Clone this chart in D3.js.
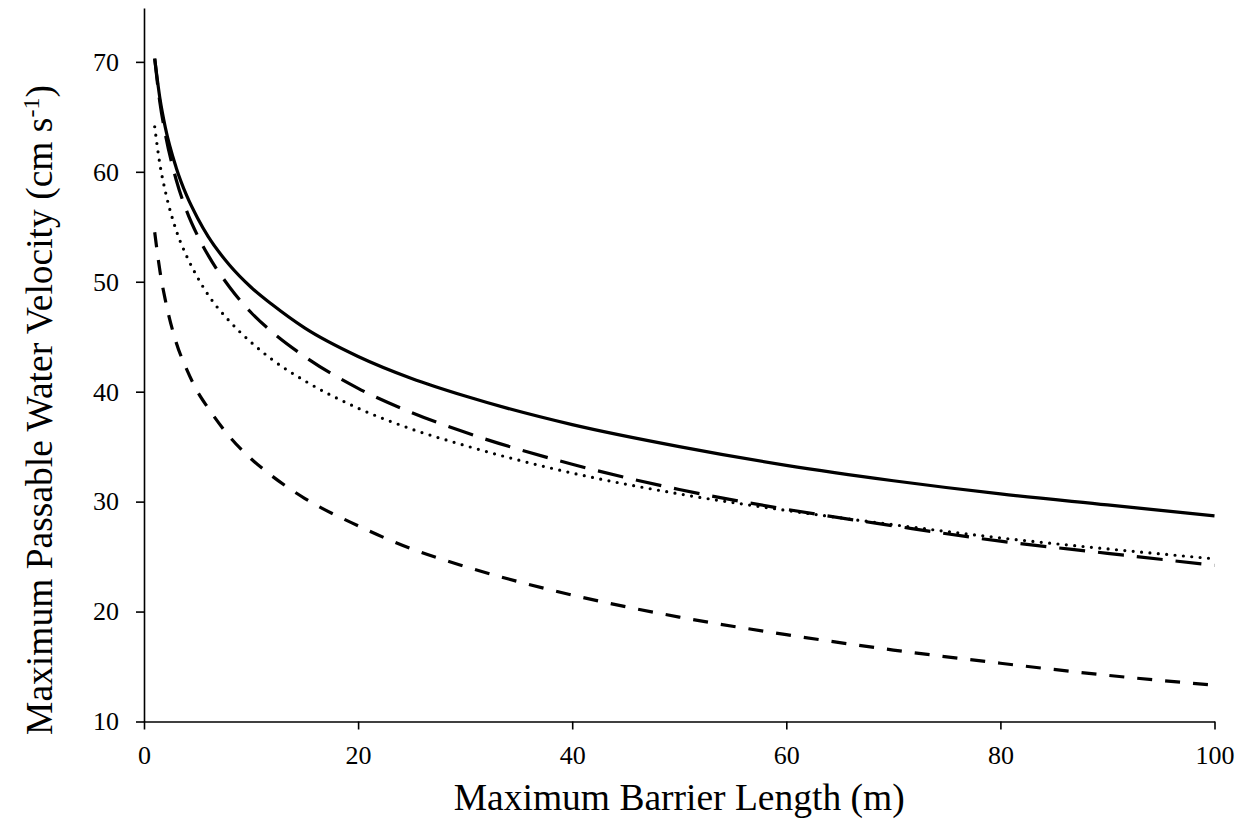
<!DOCTYPE html>
<html>
<head>
<meta charset="utf-8">
<script src="https://cdn.jsdelivr.net/npm/d3@7"></script>
<style>
  body { margin: 0; background: #fff; }
  svg { display: block; font-family: "Liberation Serif", "Times New Roman", serif; }
  .axis path, .axis line { stroke: #000; stroke-width: 1.6px; }
  .axis text { font-size: 26px; fill: #000; font-family: "Liberation Serif", serif; }
</style>
</head>
<body>
<svg id="chart"></svg>
<script>
const lengths = [1, 1.5, 2, 3, 4, 5, 6, 8, 10, 12, 15, 20, 25, 30, 40, 50, 60, 70, 80, 90, 100];

// velocities (cm/s) for each curve
const solidVals     = [70.3, 66.6, 64.0, 60.4, 57.8, 55.8, 54.1, 51.5, 49.5, 47.9, 45.8, 43.2, 41.2, 39.6, 37.0, 35.0, 33.3, 31.9, 30.7, 29.7, 28.7];
const longDashVals  = [70.3, 66.2, 63.4, 59.3, 56.4, 54.2, 52.4, 49.5, 47.2, 45.4, 43.2, 40.3, 38.1, 36.3, 33.4, 31.1, 29.3, 27.8, 26.4, 25.3, 24.2];
const dottedVals    = [64.1, 60.6, 58.2, 54.7, 52.3, 50.4, 48.8, 46.4, 44.5, 42.9, 41.0, 38.5, 36.6, 35.1, 32.6, 30.7, 29.2, 27.9, 26.7, 25.7, 24.8];
const shortDashVals = [54.5, 50.9, 48.3, 44.5, 42.0, 40.0, 38.5, 35.9, 33.9, 32.3, 30.3, 27.8, 25.7, 24.1, 21.5, 19.5, 17.9, 16.5, 15.3, 14.2, 13.3];

const xTicks = [0, 20, 40, 60, 80, 100];
const yTicks = [10, 20, 30, 40, 50, 60, 70];

// set the dimensions and margins of the graph
const W = 1243, H = 825;
const margin = {top: 8, right: 28.5, bottom: 103.5, left: 144},
    width = W - margin.left - margin.right,
    height = H - margin.top - margin.bottom;

const svg = d3.select('#chart')
    .attr("width", W)
    .attr("height", H)
    .append("g")
    .attr("transform", "translate(" + margin.left + "," + margin.top + ")");

const x = d3.scaleLinear().domain([0, 100]).range([0, width]);
const y = d3.scaleLinear().domain([10, 74.9]).range([height, 0]);

// X axis
svg.append("g")
    .attr("class", "axis")
    .attr("transform", "translate(0," + height + ")")
    .call(d3.axisBottom(x).tickValues(xTicks).tickSize(8).tickPadding(16).tickSizeOuter(0));

// Y axis
svg.append("g")
    .attr("class", "axis")
    .call(d3.axisLeft(y).tickValues(yTicks).tickSize(8).tickPadding(17).tickSizeOuter(0));

// curves
const series = [
    {vals: shortDashVals, dash: "15,13", cap: "butt"},
    {vals: dottedVals, dash: "0,8.4", cap: "round"},
    {vals: longDashVals, dash: "26,13", cap: "butt"},
    {vals: solidVals, dash: null, cap: "butt"}
];

const line = d3.line()
    .x(function(d) { return x(d[0]); })
    .y(function(d) { return y(d[1]); })
    .curve(d3.curveMonotoneX);

series.forEach(function(s) {
    svg.append("path")
        .datum(lengths.map(function(l, i) { return [l, s.vals[i]]; }))
        .attr("fill", "none")
        .attr("stroke", "#000")
        .attr("stroke-width", 3.2)
        .attr("stroke-linecap", s.cap)
        .attr("stroke-dasharray", s.dash)
        .attr("d", line);
});

// Axes labels
svg.append("text")
    .attr("text-anchor", "middle")
    .attr("x", width / 2)
    .attr("y", height + 88)
    .style("font-size", "37.5px")
    .text("Maximum Barrier Length (m)");

const yl = svg.append("text")
    .attr("text-anchor", "middle")
    .attr("transform", "translate(" + (-92) + "," + 402 + ") rotate(-90)")
    .style("font-size", "37.5px");
yl.append("tspan").text("Maximum Passable Water Velocity (cm s");
yl.append("tspan").attr("baseline-shift", "super").style("font-size", "24px").text("-1");
yl.append("tspan").text(")");
</script>
</body>
</html>
